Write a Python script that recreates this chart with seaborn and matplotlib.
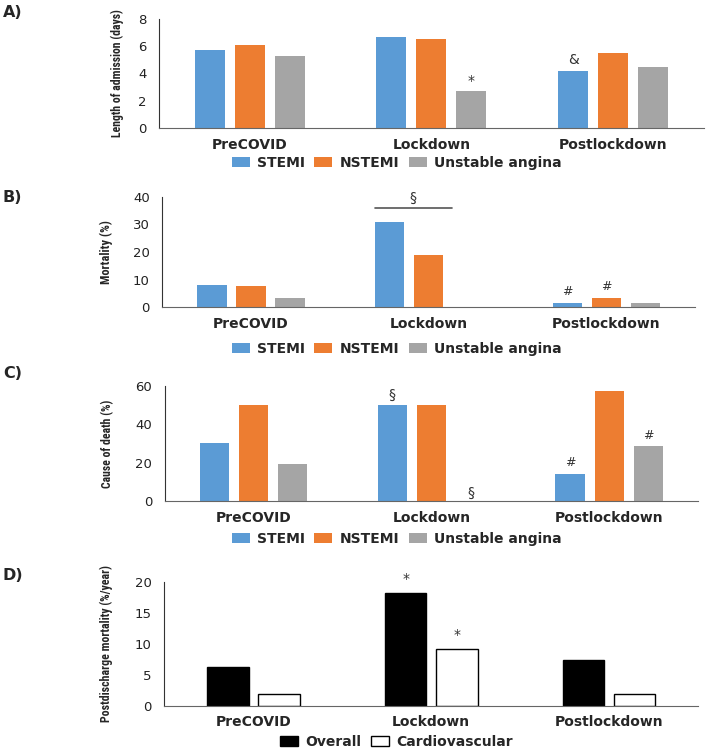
import pandas as pd
import seaborn as sns
import matplotlib.pyplot as plt
from matplotlib.patches import Patch
from matplotlib import font_manager


# ============================
# Data
# ============================

periods = ["PreCOVID", "Lockdown", "Postlockdown"]
syndromes = ["STEMI", "NSTEMI", "Unstable angina"]

stay_stemi = [5.7, 6.7, 4.15]
stay_nstemi = [6.1, 6.5, 5.5]
stay_ua = [5.3, 2.7, 4.45]

mort_stemi = [8.1, 31.0, 1.7]
mort_nstemi = [7.8, 19.0, 3.5]
mort_ua = [3.2, 0.0, 1.7]

cause_stemi = [30.0, 50.0, 14.3]
cause_nstemi = [50.0, 50.0, 57.1]
cause_ua = [19.5, 0.0, 28.6]

groups_d = ["Overall", "Cardiovascular"]
post_overall = [6.3, 18.2, 7.3]
post_cardio = [1.9, 9.2, 1.9]

colors = {"STEMI": "#5B9BD5", "NSTEMI": "#ED7D31", "Unstable angina": "#A5A5A5"}
colors_d = {"Overall": "black", "Cardiovascular": "white"}


def long_table(series, names):
    rows = []
    for name, vals in zip(names, series):
        for p, v in zip(periods, vals):
            rows.append({"period": p, "group": name, "value": v})
    return pd.DataFrame(rows)


df_a = long_table([stay_stemi, stay_nstemi, stay_ua], syndromes)
df_b = long_table([mort_stemi, mort_nstemi, mort_ua], syndromes)
df_c = long_table([cause_stemi, cause_nstemi, cause_ua], syndromes)
df_d = long_table([post_overall, post_cardio], groups_d)

# narrow font for the y labels, whichever is installed
installed = {f.name for f in font_manager.fontManager.ttflist}
narrow = "Roboto"
for cand in ["Liberation Sans Narrow", "Roboto Condensed", "Open Sans Condensed", "Roboto"]:
    if cand in installed:
        narrow = cand
        break


# ============================
# Figure
# ============================

sns.set_style("white")
plt.rcParams["font.family"] = ["DejaVu Sans"]

fig = plt.figure(figsize=(7.08, 7.5), dpi=100)

ax_a = fig.add_axes([0.2246, 0.8293, 0.7694, 0.1454])
ax_b = fig.add_axes([0.2290, 0.5903, 0.7530, 0.1474])
ax_c = fig.add_axes([0.2326, 0.3320, 0.7534, 0.1537])
ax_d = fig.add_axes([0.2320, 0.0590, 0.7540, 0.1654])


def draw_panel(ax, df, palette, ylabel, yticks, width, gap, label_x, edge=None):
    sns.barplot(
        data=df, x="period", y="value", hue="group",
        hue_order=list(palette.keys()), order=periods,
        palette=palette, width=width, gap=gap,
        edgecolor=edge if edge else "none",
        linewidth=1.0 if edge else 0,
        errorbar=None, legend=False, ax=ax, saturation=1
    )
    ax.set_xlim(-0.5, 2.5)
    ax.set_ylim(yticks[0], yticks[-1])
    ax.set_yticks(yticks)
    ax.set_xlabel("")
    ax.set_ylabel(ylabel, family=narrow, fontweight="bold", fontsize=8)
    ax.yaxis.set_label_coords(label_x, 0.5)
    ax.tick_params(axis="y", length=0, pad=9, labelsize=9.5, colors="#222222")
    ax.tick_params(axis="x", length=0, pad=7)
    for t in ax.get_xticklabels():
        t.set_fontweight("bold")
        t.set_fontsize(10)
    for s in ["top", "right"]:
        ax.spines[s].set_visible(False)
    ax.spines["left"].set_color("#333333")
    ax.spines["bottom"].set_color("#666666")


def legend_below(palette, y, x=0.56, edge=None):
    handles = [
        Patch(facecolor=c, edgecolor=edge if edge else c, linewidth=1.0 if edge else 0, label=k)
        for k, c in palette.items()
    ]
    fig.legend(
        handles=handles, loc="center", bbox_to_anchor=(x, y), ncol=len(handles),
        frameon=False, handlelength=1.3, handleheight=0.75, handletextpad=0.5,
        columnspacing=0.7, prop={"weight": "bold", "size": 10}
    )


def mark(ax, period_idx, hue_idx, text, dy=3, size=10):
    bar = ax.containers[hue_idx][period_idx]
    xc = bar.get_x() + bar.get_width() / 2
    ax.annotate(text, (xc, bar.get_height()), xytext=(0, dy),
                textcoords="offset points", ha="center", va="bottom",
                fontsize=size, color="#333333")


draw_panel(ax_a, df_a, colors, "Length of admission (days)", [0, 2, 4, 6, 8], 0.66, 0.25, -0.065)
draw_panel(ax_b, df_b, colors, "Mortality (%)", [0, 10, 20, 30, 40], 0.66, 0.25, -0.093)
draw_panel(ax_c, df_c, colors, "Cause of death (%)", [0, 20, 40, 60], 0.66, 0.25, -0.095)
draw_panel(ax_d, df_d, colors_d, "Postdischarge mortality (%/year)", [0, 5, 10, 15, 20],
           0.574, 0.185, -0.096, edge="black")

# fit y label lengths to roughly the length seen in the figure
renderer = fig.canvas.get_renderer()
for ax in [ax_a, ax_b, ax_c, ax_d]:
    lab = ax.yaxis.label
    target = 4.9 * len(lab.get_text())
    for _ in range(3):
        h = lab.get_window_extent(renderer).height
        lab.set_fontsize(lab.get_fontsize() * target / h)

legend_below(colors, 1 - 163 / 750)
legend_below(colors, 1 - 349 / 750)
legend_below(colors, 1 - 539 / 750)
legend_below(colors_d, 1 - 742 / 750, edge="black")

# significance marks
mark(ax_a, 1, 2, "*", dy=2)
mark(ax_a, 2, 0, "&", dy=3)

lk0 = ax_b.containers[0][1]
lk1 = ax_b.containers[1][1]
ax_b.plot([lk0.get_x(), lk1.get_x() + lk1.get_width() + 0.05], [36, 36],
          color="#555555", lw=1.2)
ax_b.text((lk0.get_x() + lk1.get_x() + lk1.get_width()) / 2 + 0.02, 37, "§",
          ha="center", va="bottom", fontsize=10, color="#333333")
mark(ax_b, 2, 0, "#", dy=3, size=9)
mark(ax_b, 2, 1, "#", dy=3, size=9)

mark(ax_c, 1, 0, "§", dy=2)
mark(ax_c, 1, 2, "§", dy=1)
mark(ax_c, 2, 0, "#", dy=3, size=9)
mark(ax_c, 2, 2, "#", dy=3, size=9)

mark(ax_d, 1, 0, "*", dy=5)
mark(ax_d, 1, 1, "*", dy=5)

for letter, yy in [("A)", 0.993), ("B)", 0.747), ("C)", 0.512), ("D)", 0.243)]:
    fig.text(0.004, yy, letter, fontweight="bold", fontsize=11.5, va="top", ha="left")

fig.savefig("out.png", dpi=100)
